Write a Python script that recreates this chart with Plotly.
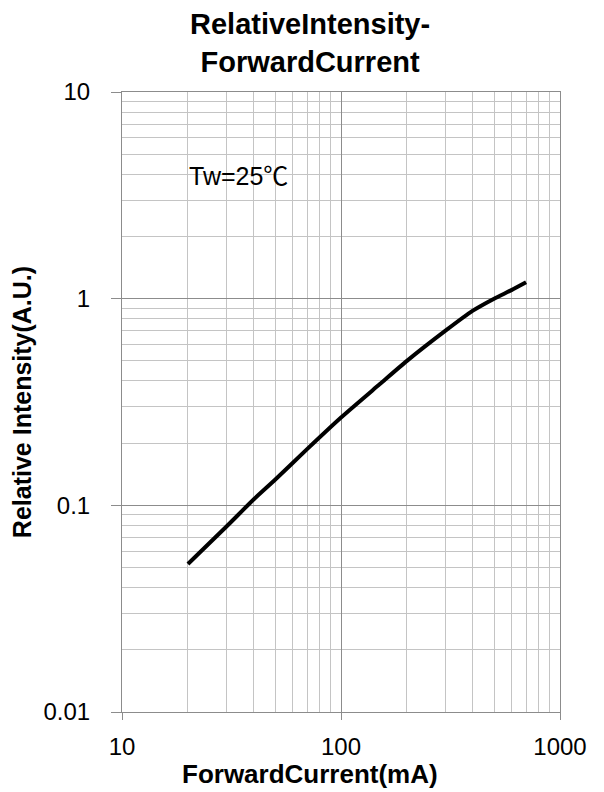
import plotly.graph_objects as go

current_mA = [20, 30, 40, 50, 70, 100, 150, 200, 300, 400, 500, 600, 700]
rel_intensity = [0.052, 0.079, 0.107, 0.133, 0.187, 0.266, 0.385, 0.50, 0.70, 0.875, 1.0, 1.1, 1.2]
x_ticks = [10, 100, 1000]
x_tick_labels = ["10", "100", "1000"]
y_ticks = [0.01, 0.1, 1, 10]
y_tick_labels = ["0.01", "0.1", "1", "10"]

FONT = "Liberation Sans, Arial, Noto Sans CJK SC, sans-serif"

fig = go.Figure()
fig.add_trace(go.Scatter(
    x=current_mA, y=rel_intensity, mode="lines",
    line=dict(color="black", width=4, shape="spline", smoothing=0.6),
    showlegend=False, hoverinfo="skip",
))

fig.update_layout(
    width=604, height=792,
    margin=dict(l=114, r=52, t=84, b=88),
    paper_bgcolor="white", plot_bgcolor="white",
    font=dict(family=FONT, color="black", size=24),
    annotations=[
        dict(
            text="<b>RelativeIntensity-<br>ForwardCurrent</b>",
            x=0.43, y=1.0194, xref="paper", yref="paper",
            xanchor="center", yanchor="bottom", showarrow=False,
            font=dict(family=FONT, size=29, color="black"),
        ),
        dict(
            text="<b>ForwardCurrent(mA)</b>",
            x=0.429, y=-0.1, xref="paper", yref="paper",
            xanchor="center", yanchor="middle", showarrow=False,
            font=dict(family=FONT, size=26, color="black"),
        ),
        dict(
            text="Tw=25℃", x=0.148, y=0.8645, xref="paper", yref="paper",
            xanchor="left", yanchor="middle", showarrow=False,
            font=dict(family=FONT, size=25, color="black"),
        ),
    ],
)

fig.update_xaxes(
    type="log", range=[1, 3], automargin=False,
    tickvals=x_ticks, ticktext=x_tick_labels,
    ticks="outside", ticklen=7, tickcolor="#8c8c8c", tickwidth=1,
    ticklabelstandoff=6,
    showgrid=True, gridcolor="#8c8c8c", gridwidth=1,
    showline=True, linecolor="#8c8c8c", linewidth=1, mirror=True,
    minor=dict(dtick="D1", showgrid=True, gridcolor="#c4c4c4", gridwidth=1, ticks=""),
    tickfont=dict(size=24, family=FONT),
    zeroline=False,
)
fig.update_yaxes(
    type="log", range=[-2, 1], automargin=False,
    tickvals=y_ticks, ticktext=y_tick_labels,
    ticks="outside", ticklen=10, tickcolor="#8c8c8c", tickwidth=1,
    ticklabelstandoff=16,
    showgrid=True, gridcolor="#8c8c8c", gridwidth=1,
    showline=True, linecolor="#8c8c8c", linewidth=1, mirror=True,
    minor=dict(dtick="D1", showgrid=True, gridcolor="#c4c4c4", gridwidth=1, ticks=""),
    tickfont=dict(size=24, family=FONT),
    title=dict(text="<b>Relative Intensity(A.U.)</b>", font=dict(size=25, family=FONT), standoff=10),
    zeroline=False,
)

fig.write_html("out.html")
